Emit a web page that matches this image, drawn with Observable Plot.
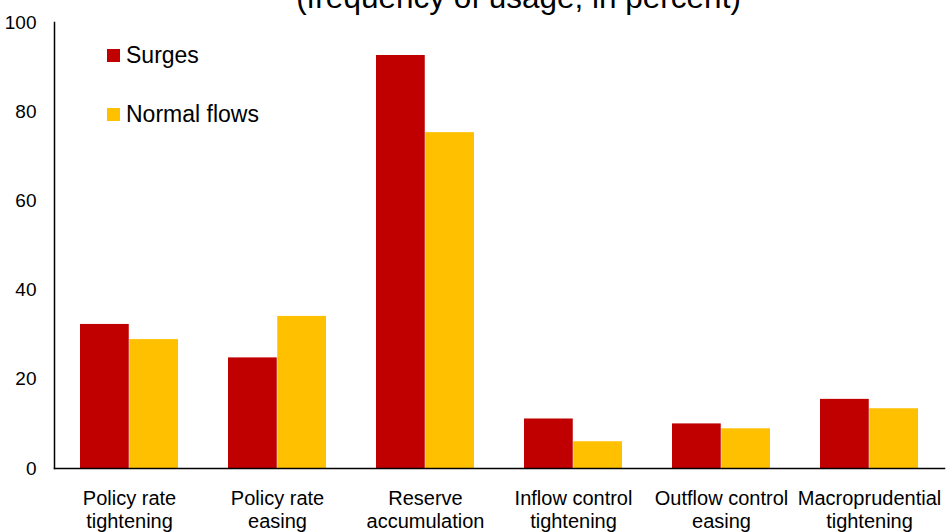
<!DOCTYPE html>
<html>
<head>
<meta charset="utf-8">
<script src="https://cdn.jsdelivr.net/npm/d3@7"></script>
<script src="https://cdn.jsdelivr.net/npm/@observablehq/plot@0.6"></script>
<style>
  html, body { margin: 0; padding: 0; background: #fff; }
  #wrap { position: relative; width: 947px; height: 532px; overflow: hidden; font-family: "Liberation Sans", Arial, sans-serif; }
  .legend { position: absolute; left: 107px; font-size: 23px; line-height: 1; color: #000; display: flex; align-items: center; }
  .legend .sw { width: 13px; height: 13px; margin-right: 6px; }
</style>
</head>
<body>
<div id="wrap"></div>
<script>
const categories = [
  "Policy rate\ntightening",
  "Policy rate\neasing",
  "Reserve\naccumulation",
  "Inflow control\ntightening",
  "Outflow control\neasing",
  "Macroprudential\ntightening"
];
const surges      = [32.3, 24.8, 92.6, 11.1, 10.0, 15.5];
const normalFlows = [28.9, 34.1, 75.3,  6.0,  8.9, 13.4];
const seriesNames = ["Surges", "Normal flows"];
const seriesColors = ["#C00000", "#FFC000"];
const yTicks = [0, 20, 40, 60, 80, 100];
const title = "(frequency of usage, in percent)";

const W = 947, H = 532;
const mL = 54, mR = 3, mT = 22, mB = 64;
const padInner = 0.336, padOuter = 0.168;
const step = (W - mL - mR) / (categories.length - padInner + 2 * padOuter);
const half = step * (1 - padInner) / 2;

const surgeData = categories.map((c, i) => ({category: c, value: surges[i]}));
const normalData = categories.map((c, i) => ({category: c, value: normalFlows[i]}));

const chart = Plot.plot({
  width: W, height: H,
  marginLeft: mL, marginRight: mR, marginTop: mT, marginBottom: mB,
  style: {fontFamily: "'Liberation Sans', Arial, sans-serif", fontSize: "19px", color: "#000", background: "#fff"},
  x: {domain: categories, paddingInner: padInner, paddingOuter: padOuter, label: null},
  y: {domain: [0, 100], label: null},
  marks: [
    Plot.barY(surgeData, {x: "category", y: "value", fill: seriesColors[0], insetRight: half, insetLeft: 0}),
    Plot.barY(normalData, {x: "category", y: "value", fill: seriesColors[1], insetLeft: half, insetRight: 0}),
    Plot.axisY({ticks: yTicks, tickSize: 0, tickPadding: 18, fontSize: 19, label: null}),
    Plot.axisX({tickSize: 0, tickPadding: 21, fontSize: 20, lineHeight: 1.12, label: null}),
    Plot.frame({anchor: "left", stroke: "#000", strokeWidth: 1.5}),
    Plot.frame({anchor: "bottom", stroke: "#000", strokeWidth: 1.5}),
    Plot.text([title], {frameAnchor: "top", dx: 19, dy: -15, lineAnchor: "bottom", fontSize: 31.5, fill: "#000"})
  ]
});

const wrap = document.getElementById("wrap");
wrap.appendChild(chart);

const legendTops = [44, 103];
seriesNames.forEach((name, i) => {
  const row = document.createElement("div");
  row.className = "legend";
  row.style.top = legendTops[i] + "px";
  const sw = document.createElement("div");
  sw.className = "sw";
  sw.style.background = seriesColors[i];
  const t = document.createElement("span");
  t.textContent = name;
  row.appendChild(sw);
  row.appendChild(t);
  wrap.appendChild(row);
});
</script>
</body>
</html>
